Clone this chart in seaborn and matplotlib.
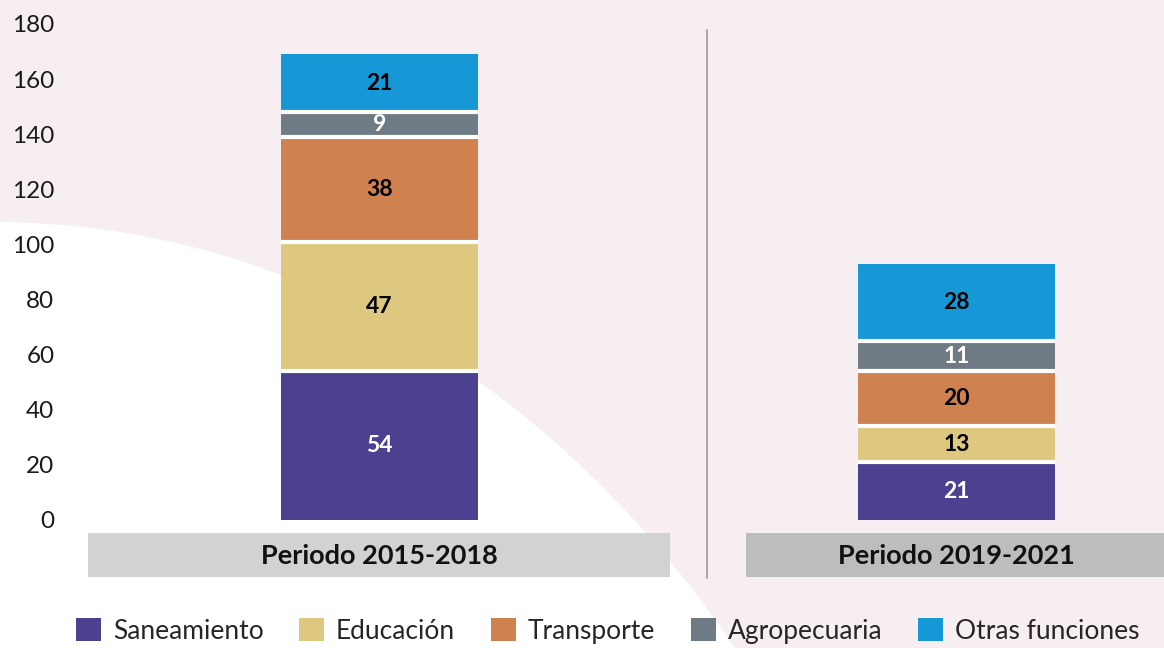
import matplotlib
matplotlib.use("Agg")
import matplotlib.pyplot as plt
import seaborn as sns
import pandas as pd
import numpy as np
from matplotlib.patches import Rectangle, PathPatch, Patch
from matplotlib.path import Path
from matplotlib.lines import Line2D
import matplotlib.transforms as mtransforms

# ---- data ----
periodos = ["Periodo 2015-2018", "Periodo 2019-2021"]
categorias = ["Saneamiento", "Educación", "Transporte", "Agropecuaria", "Otras funciones"]
saneamiento = [54, 21]
educacion = [47, 13]
transporte = [38, 20]
agropecuaria = [9, 11]
otras = [21, 28]
colores = ["#4b4190", "#dec77e", "#cf8150", "#6f7b84", "#1697d6"]
texto_color = ["white", "black", "black", "white", "black"]

series = [saneamiento, educacion, transporte, agropecuaria, otras]

sns.set_theme(style="white")
plt.rcParams["font.family"] = ["Lato", "DejaVu Sans"]

W, H = 1164, 648
fig = plt.figure(figsize=(W / 100, H / 100), dpi=100)
bg = "#f6eef0"
fig.patch.set_facecolor(bg)

def fx(px):
    return px / W
def fy(py):
    return 1 - py / H

# white curved background region (decoration)
verts = [(fx(0), fy(222)), (fx(300), fy(225)), (fx(560), fy(390)), (fx(735), fy(648)),
         (fx(0), fy(648)), (fx(0), fy(222))]
codes = [Path.MOVETO, Path.CURVE4, Path.CURVE4, Path.CURVE4, Path.LINETO, Path.CLOSEPOLY]
fig.patches.append(PathPatch(Path(verts, codes), transform=fig.transFigure,
                             facecolor="white", edgecolor="none", zorder=-10))

# period label boxes
fig.patches.append(Rectangle((fx(88), fy(577)), (670 - 88) / W, 44 / H,
                             transform=fig.transFigure, facecolor="#d1d2d4",
                             edgecolor="none", zorder=-5))
fig.patches.append(Rectangle((fx(746), fy(577)), (1164 - 746) / W, 44 / H,
                             transform=fig.transFigure, facecolor="#bcbdbf",
                             edgecolor="none", zorder=-5))

ax_left = 60 / W
ax = fig.add_axes([ax_left, (H - 520) / H, 1 - ax_left, (520 - 24) / H])
ax.set_facecolor("none")

# cumulative table
rows = []
cum = np.zeros(len(periodos))
cums = []
for cat, vals in zip(categorias, series):
    cum = cum + np.array(vals)
    cums.append(cum.copy())
    for p, c, v in zip(periodos, cum, vals):
        rows.append({"periodo": p, "categoria": cat, "acum": c, "valor": v})
df = pd.DataFrame(rows)

bar_w = 0.342
hue_order = categorias[::-1]
palette = dict(zip(categorias, colores))
sns.barplot(data=df, x="periodo", y="acum", hue="categoria", order=periodos,
            hue_order=hue_order, palette=palette, dodge=False, width=bar_w,
            linewidth=0, saturation=1, legend=False, ax=ax)

# white separators between stacked segments
for i in range(len(periodos)):
    for c in cums[:-1]:
        ax.hlines(c[i], i - bar_w / 2, i + bar_w / 2, color="white", linewidth=3, zorder=3)

# value labels
for i, p in enumerate(periodos):
    base = 0
    for cat, vals, tc in zip(categorias, series, texto_color):
        v = vals[i]
        ax.text(i, base + v / 2, f"{v}", ha="center", va="center", color=tc,
                fontsize=16.5, fontweight="bold", zorder=4)
        base += v

ax.set_ylim(0, 180)
ax.set_xlim((60 - 379.5) / 577, (1164 - 379.5) / 577)
ax.set_yticks(np.arange(0, 181, 20))
ax.tick_params(axis="y", length=0, pad=4, labelsize=17.5, labelcolor="#1a1a1a")
ax.set_xticks([])
ax.set_xlabel("")
ax.set_ylabel("")
for s in ax.spines.values():
    s.set_visible(False)

trans = mtransforms.blended_transform_factory(ax.transData, fig.transFigure)
for i, p in enumerate(periodos):
    ax.text(i, fy(556), p, transform=trans, ha="center", va="center",
            fontsize=19.5, fontweight="bold", color="#111111", clip_on=False)

# separator line
fig.add_artist(Line2D([fx(707), fx(707)], [fy(578), fy(30)], transform=fig.transFigure,
                      color="#9a9a9a", linewidth=1.2))

# legend
handles = [Patch(facecolor=c, edgecolor="none", label=l) for c, l in zip(colores, categorias)]
fig.legend(handles=handles, loc="center", bbox_to_anchor=(0.522, fy(631)), ncol=5,
           frameon=False, fontsize=19, handlelength=0.95, handleheight=0.95,
           handletextpad=0.45, columnspacing=1.35, borderaxespad=0)

fig.savefig("out.png", dpi=100, facecolor=fig.get_facecolor())
